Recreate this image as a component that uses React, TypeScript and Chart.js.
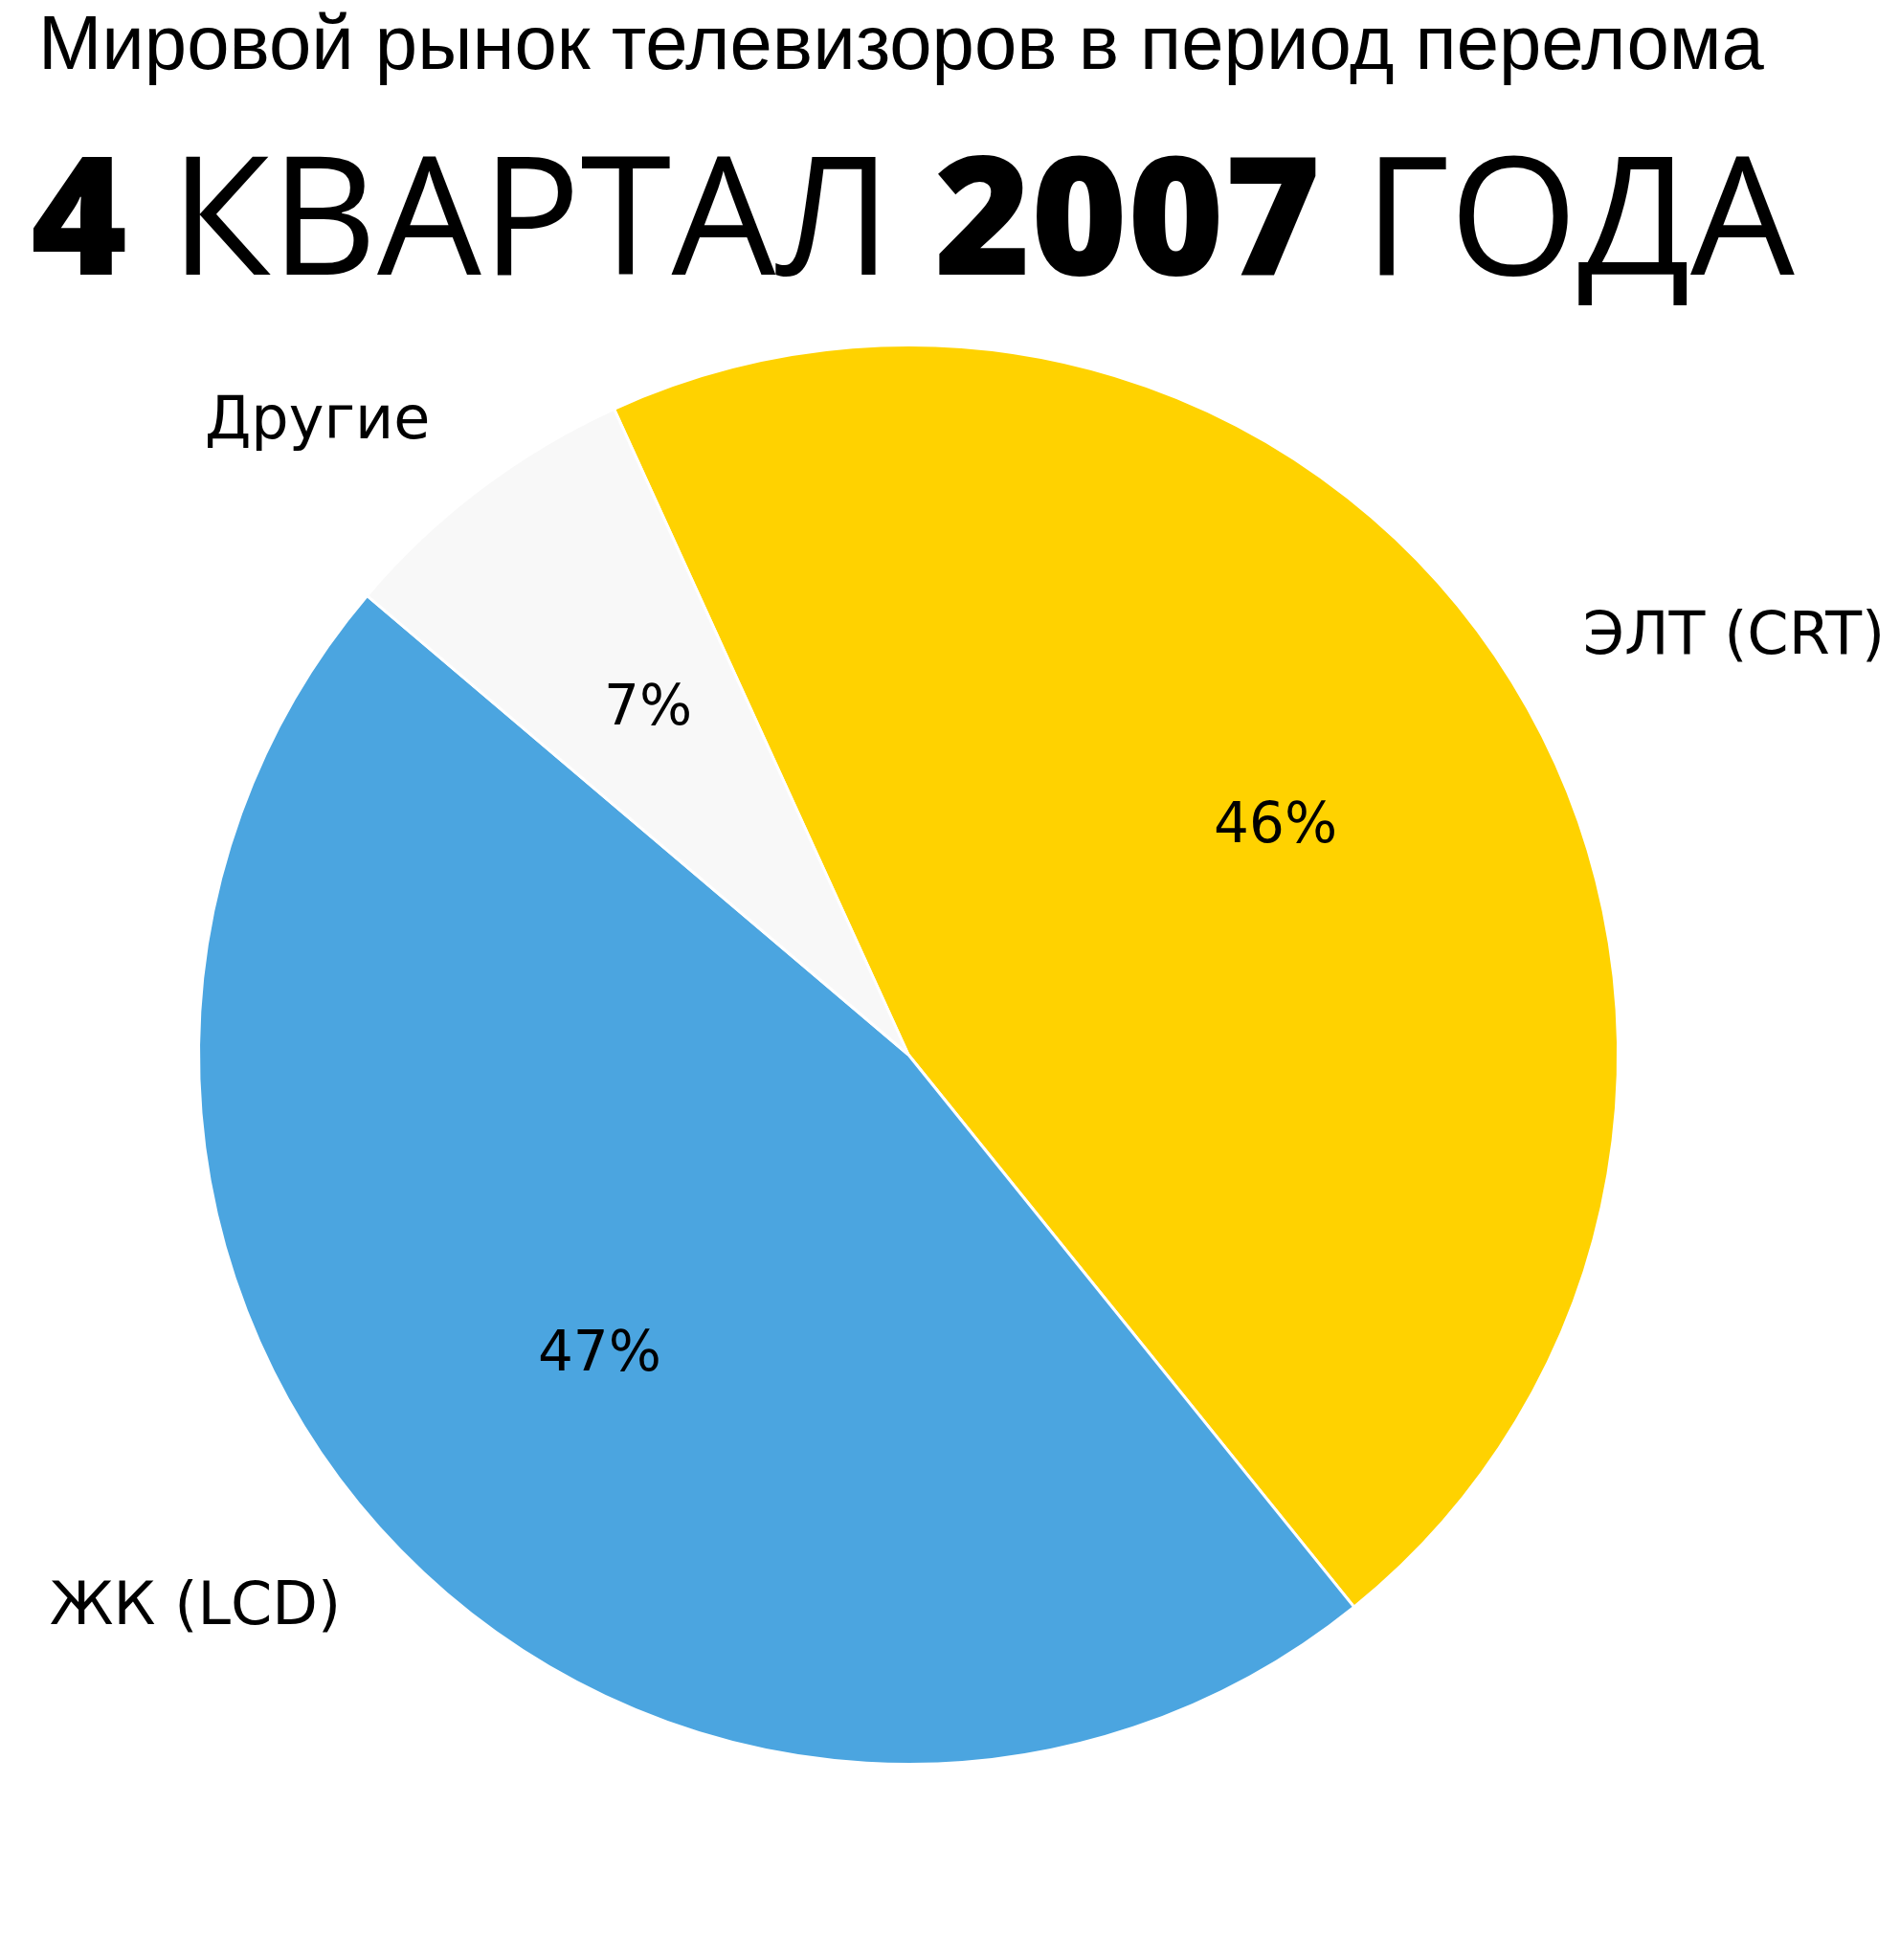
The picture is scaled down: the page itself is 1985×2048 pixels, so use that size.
import React, { useEffect, useRef } from "react";
import { Chart, registerables } from "chart.js";

Chart.register(...registerables);

// ---- data ----
const categories = ["ЭЛТ (CRT)", "ЖК (LCD)", "Другие"];
const shares = [46, 47, 7];
const sliceColors = ["#FFD200", "#4BA5E0", "#F8F8F8"];
const subtitleText = "Мировой рынок телевизоров в период перелома";
const headlineTexts = ["4", " КВАРТАЛ ", "2007", " ГОДА"];
const headlineBold = [true, false, true, false];

const W = 1985;
const H = 2048;

const textPlugin = {
  id: "customTexts",
  afterDraw(chart: any) {
    const ctx = chart.ctx as CanvasRenderingContext2D;
    ctx.save();
    ctx.fillStyle = "#000";
    ctx.textBaseline = "alphabetic";
    ctx.textAlign = "left";

    // subtitle line, sized to span the reference width
    ctx.font = "400 80px 'Liberation Sans'";
    const w1 = ctx.measureText(subtitleText).width;
    const s1 = (80 * 1803) / w1;
    ctx.font = `400 ${s1}px 'Liberation Sans'`;
    ctx.fillText(subtitleText, 40, 72);

    // headline with mixed weights
    const fontFor = (i: number, size: number) =>
      `${headlineBold[i] ? 800 : 400} ${size}px 'Open Sans'`;
    let total = 0;
    headlineTexts.forEach((t, i) => {
      ctx.font = fontFor(i, 168);
      total += ctx.measureText(t).width;
    });
    const s2 = Math.min(178, (168 * 1843) / total);
    let x = 32;
    headlineTexts.forEach((t, i) => {
      ctx.font = fontFor(i, s2);
      ctx.fillText(t, x, 287);
      x += ctx.measureText(t).width;
    });

    // slice labels
    const meta = chart.getDatasetMeta(0);
    meta.data.forEach((arc: any, i: number) => {
      const p = arc.getProps(["x", "y", "startAngle", "endAngle", "outerRadius"], true);
      const mid = (p.startAngle + p.endAngle) / 2;
      const c = Math.cos(mid);
      const s = Math.sin(mid);
      ctx.textBaseline = "middle";
      ctx.textAlign = "center";
      ctx.font = "400 58px 'DejaVu Sans'";
      ctx.fillText(shares[i] + "%", p.x + c * p.outerRadius * 0.608, p.y + s * p.outerRadius * 0.608);
      ctx.font = "400 62px 'DejaVu Sans'";
      ctx.textAlign = c >= 0 ? "left" : "right";
      ctx.fillText(categories[i], p.x + c * p.outerRadius * 1.117, p.y + s * p.outerRadius * 1.117);
    });
    ctx.restore();
  },
};

export default function App() {
  const ref = useRef<HTMLCanvasElement | null>(null);
  useEffect(() => {
    if (!ref.current) return;
    const chart = new Chart(ref.current, {
      type: "pie",
      data: {
        labels: categories,
        datasets: [
          {
            data: shares,
            backgroundColor: sliceColors,
            borderColor: "#ffffff",
            borderWidth: 3,
          },
        ],
      },
      options: {
        responsive: false,
        animation: false,
        devicePixelRatio: 1,
        rotation: -24.5,
        layout: { padding: { left: 206, right: 293, top: 359, bottom: 203 } },
        plugins: {
          legend: { display: false },
          tooltip: { enabled: false },
          title: { display: false },
        },
      },
      plugins: [textPlugin],
    });
    return () => chart.destroy();
  }, []);
  return (
    <div style={{ position: "absolute", left: 0, top: 0, width: W, height: H, background: "#fff" }}>
      <canvas ref={ref} width={W} height={H} style={{ width: W, height: H, display: "block" }} />
    </div>
  );
}
